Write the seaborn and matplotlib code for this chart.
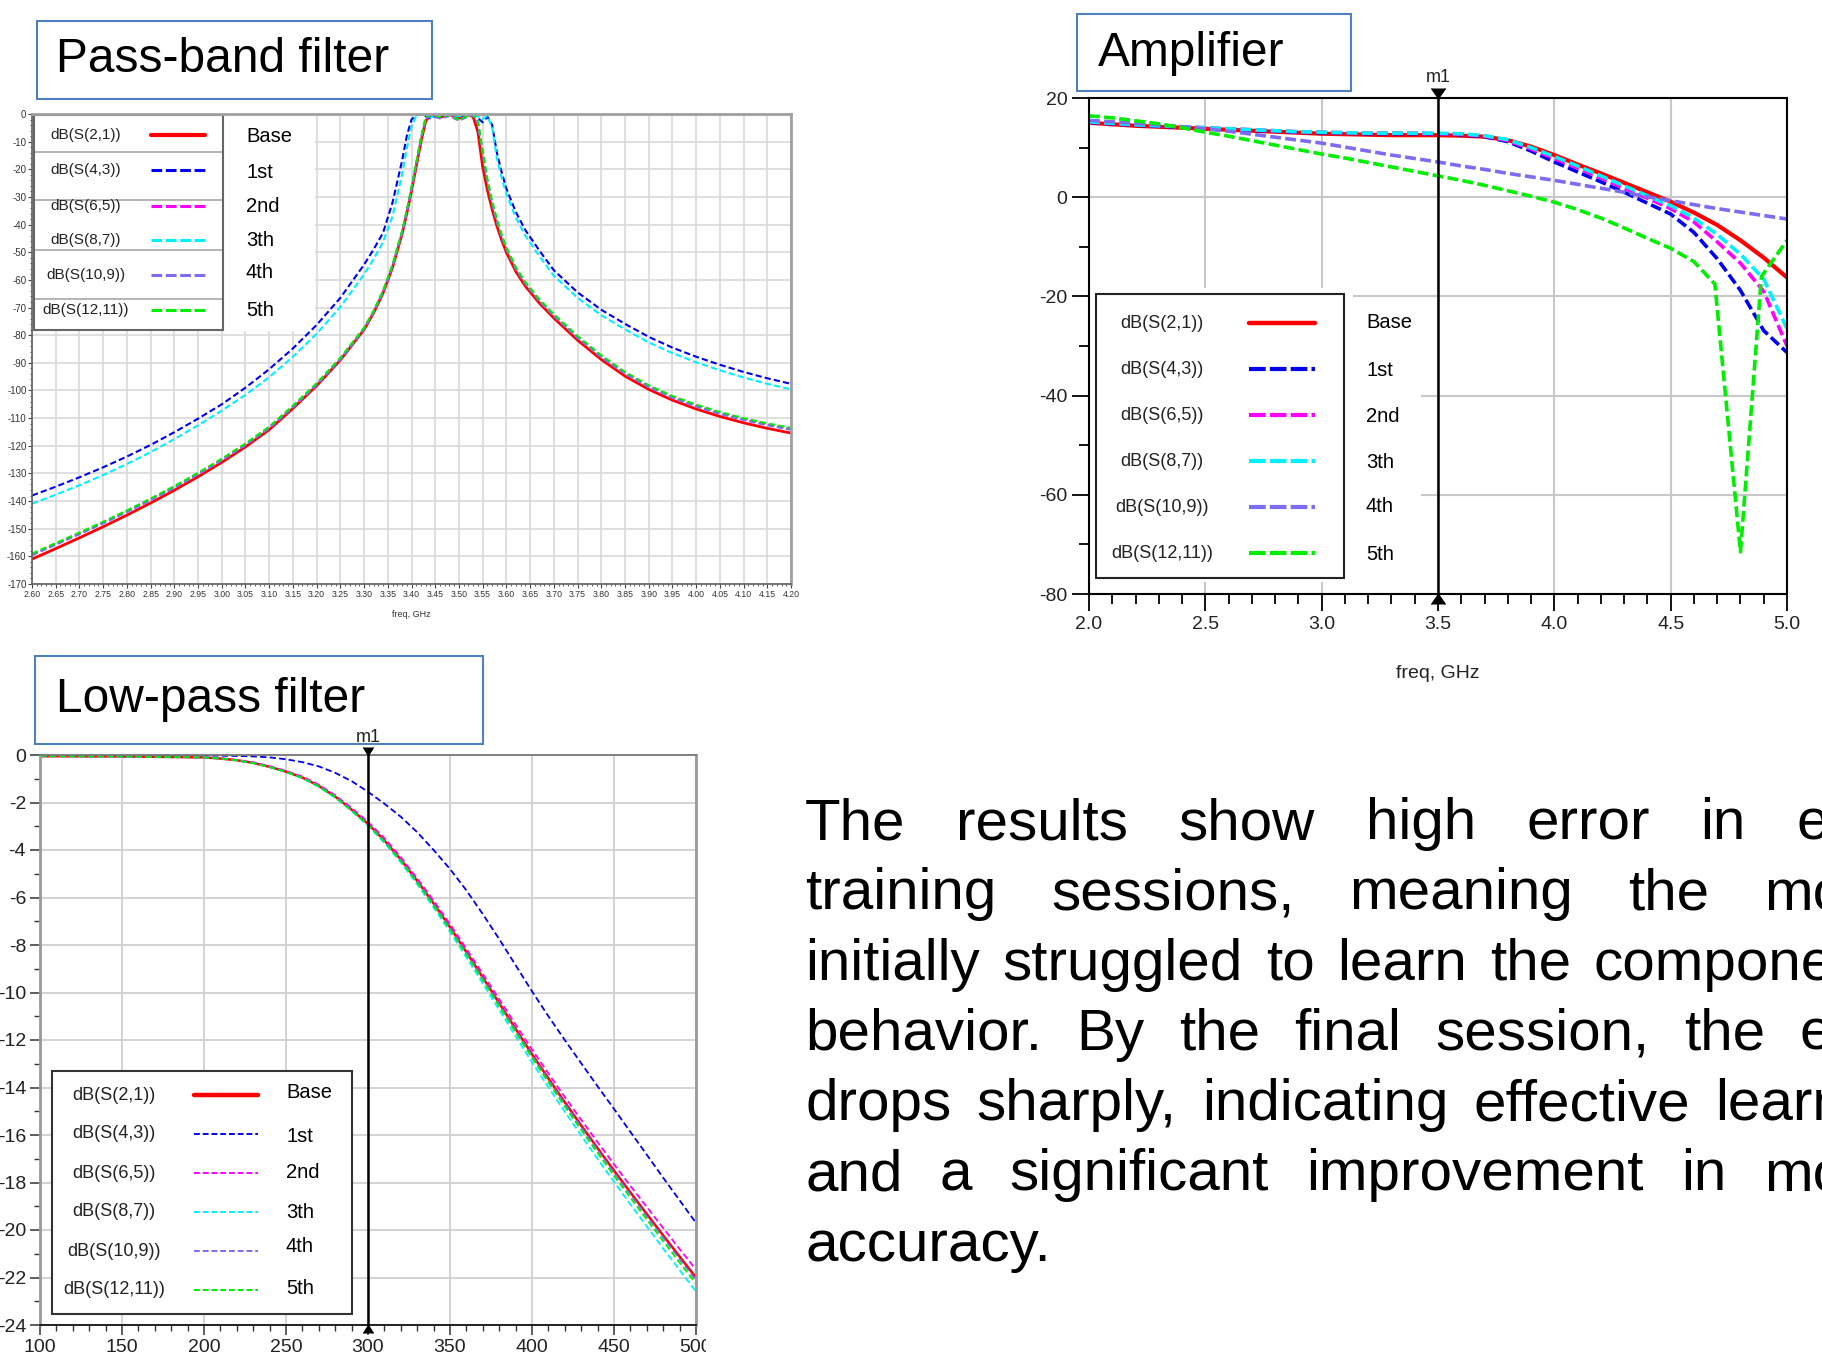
import matplotlib
matplotlib.use("Agg")
import matplotlib.pyplot as plt
import matplotlib.transforms as mtransforms
from matplotlib.patches import Rectangle
from matplotlib.lines import Line2D
from matplotlib.ticker import MultipleLocator, FormatStrFormatter
import pandas as pd
import seaborn as sns

FIG_W, FIG_H = 1822, 1362

# traces shared by the three panels
trace_names = ["dB(S(2,1))", "dB(S(4,3))", "dB(S(6,5))", "dB(S(8,7))", "dB(S(10,9))", "dB(S(12,11))"]
trace_labels = ["Base", "1st", "2nd", "3th", "4th", "5th"]
trace_colors = ["#FF0000", "#0000F0", "#FF00FF", "#00F0FF", "#7B6CF0", "#00EE00"]

# ---- pass-band filter (freq in GHz, dB) ----
pb_freq = [2.60, 2.65, 2.70, 2.75, 2.80, 2.85, 2.90, 2.95, 3.00, 3.05, 3.10, 3.15, 3.20, 3.25, 3.30,
           3.32, 3.34, 3.36, 3.38, 3.39, 3.40, 3.41, 3.42, 3.43, 3.44,
           3.46, 3.48, 3.50, 3.52, 3.53, 3.54, 3.55, 3.56, 3.57, 3.58, 3.59, 3.60,
           3.62, 3.64, 3.67, 3.70, 3.75, 3.80, 3.85, 3.90, 3.95, 4.00, 4.05, 4.10, 4.15, 4.20]
pb_base = [-161, -157.2, -153.3, -149.3, -145.1, -140.7, -136.1, -131.2, -126, -120.4, -114.2, -106.5, -98.3, -89, -78,
           -72, -64.8, -55.5, -43.5, -36, -27.8, -19, -10, -2.5, -0.4,
           -1.2, -0.2, -1.5, -0.3, -1.0, -6.5, -19, -27.5, -34.5, -40.5, -45.6, -50,
           -57, -62.3, -68.5, -73.8, -81.8, -88.8, -94.8, -99.6, -103.5, -106.7, -109.4, -111.7, -113.7, -115.4]
pb_1st = [-138, -134.8, -131.4, -127.8, -123.9, -119.7, -115.1, -110.2, -105.0, -99, -92.3, -84.8, -76.3, -66.5, -54.5,
          -49, -43, -32, -17, -8, -2, -0.3, -0.2, -0.8, -1.5,
          -0.5, -0.3, -1.0, -0.4, -0.3, -1.5, -3.0, -1.0, -4, -14, -21, -27,
          -35.5, -42, -49.5, -56.5, -64.5, -70.8, -75.9, -80.6, -84.5, -87.8, -90.7, -93.3, -95.6, -97.6]
pb_2nd = [-159.3, -155.5, -151.7, -147.8, -143.7, -139.4, -134.9, -130.1, -125.0, -119.5, -113.4, -105.8, -97.7, -88.5, -77.6,
          -71.5, -64.2, -54.8, -42.7, -35.2, -26.8, -17.9, -8.8, -1.4, -0.4,
          -1.3, -0.3, -1.8, -0.5, -0.4, -3.0, -14, -24.3, -32.1, -38.6, -44.1, -48.6,
          -55.8, -61.2, -67.5, -72.8, -80.7, -87.7, -93.7, -98.5, -102.4, -105.5, -108.2, -110.4, -112.3, -113.9]
pb_3th = [-141, -137.7, -134.3, -130.6, -126.6, -122.3, -117.6, -112.6, -107.3, -101.6, -95.2, -87.8, -79.5, -69.8, -58,
          -52.5, -46.3, -37, -22, -12.5, -4.5, -0.6, -0.3, -0.5, -1.2,
          -0.4, -0.2, -0.8, -0.3, -0.2, -0.9, -1.8, -0.6, -5, -16, -23, -29,
          -37.5, -44, -51.5, -58.5, -66.5, -72.8, -77.9, -82.6, -86.5, -89.8, -92.7, -95.3, -97.6, -99.6]
pb_4th = [-159.6, -155.8, -152.0, -148.1, -144.0, -139.7, -135.2, -130.4, -125.3, -119.8, -113.7, -106.1, -98.0, -88.8, -77.9,
          -71.8, -64.5, -55.1, -43.0, -35.5, -27.1, -18.2, -9.1, -1.7, -0.6,
          -1.6, -0.8, -2.4, -0.9, -0.6, -3.5, -14.5, -24.8, -32.6, -39, -44.5, -49,
          -56.1, -61.5, -67.8, -73.1, -81, -88, -94, -98.8, -102.7, -105.8, -108.5, -110.7, -112.6, -114.2]
pb_5th = [-159, -155.2, -151.4, -147.5, -143.4, -139.1, -134.6, -129.8, -124.7, -119.2, -113.1, -105.5, -97.4, -88.2, -77.3,
          -71.2, -63.9, -54.5, -42.4, -34.9, -26.5, -17.6, -8.5, -1.2, -0.3,
          -1.0, -0.4, -2.0, -0.6, -0.3, -2.5, -13, -23.5, -31.5, -38, -43.6, -48.2,
          -55.4, -60.8, -67.1, -72.4, -80.3, -87.3, -93.3, -98.1, -102, -105.1, -107.8, -110, -111.9, -113.5]

# ---- amplifier (freq in GHz, dB) ----
amp_freq = [2.0, 2.1, 2.2, 2.3, 2.4, 2.5, 2.6, 2.7, 2.8, 2.9, 3.0, 3.1, 3.2, 3.3, 3.4, 3.5,
            3.6, 3.7, 3.8, 3.9, 4.0, 4.1, 4.2, 4.3, 4.4, 4.5, 4.6, 4.7, 4.8, 4.9, 5.0]
amp_freq_5th = [2.0, 2.1, 2.2, 2.3, 2.4, 2.5, 2.6, 2.7, 2.8, 2.9, 3.0, 3.1, 3.2, 3.3, 3.4, 3.5,
                3.6, 3.7, 3.8, 3.9, 4.0, 4.1, 4.2, 4.3, 4.4, 4.5, 4.6, 4.69, 4.80, 4.89, 5.0]
amp_base = [15.0, 14.7, 14.4, 14.2, 14.0, 13.8, 13.6, 13.4, 13.2, 13.0, 12.8, 12.7, 12.6, 12.5, 12.5, 12.5,
            12.4, 12.2, 11.5, 10.2, 8.5, 6.6, 4.8, 2.9, 1.0, -0.9, -3.1, -5.6, -8.7, -12.2, -16.2]
amp_1st = [15.1, 14.8, 14.5, 14.3, 14.1, 13.9, 13.7, 13.5, 13.3, 13.1, 13.0, 12.9, 12.8, 12.8, 12.8, 12.8,
           12.6, 12.2, 11.2, 9.3, 7.1, 5.1, 3.1, 1.0, -1.2, -3.4, -7.1, -12.4, -18.8, -26.9, -31.3]
amp_2nd = [15.2, 14.9, 14.6, 14.4, 14.2, 14.0, 13.8, 13.6, 13.4, 13.2, 13.1, 13.0, 12.9, 12.9, 12.9, 12.8,
           12.7, 12.3, 11.4, 9.7, 7.8, 5.9, 3.9, 1.8, -0.2, -2.3, -5.0, -9.0, -13.3, -19.0, -30.0]
amp_3th = [15.2, 14.9, 14.6, 14.4, 14.2, 14.0, 13.8, 13.6, 13.4, 13.2, 13.1, 13.0, 12.9, 12.9, 12.9, 12.9,
           12.8, 12.4, 11.6, 10.0, 8.2, 6.3, 4.3, 2.3, 0.3, -1.7, -4.2, -7.5, -11.5, -16.5, -26.5]
amp_4th = [15.5, 15.2, 14.9, 14.6, 14.2, 13.8, 13.3, 12.7, 12.1, 11.5, 10.9, 10.1, 9.3, 8.5, 7.8, 7.1,
           6.3, 5.6, 4.8, 4.1, 3.4, 2.6, 1.8, 1.0, 0.1, -0.7, -1.5, -2.3, -3.0, -3.7, -4.4]
amp_5th = [16.4, 16.0, 15.4, 14.8, 14.0, 13.1, 12.3, 11.4, 10.5, 9.6, 8.7, 7.9, 7.0, 6.1, 5.2, 4.3,
           3.4, 2.4, 1.3, 0.2, -1.0, -2.5, -4.2, -6.2, -8.3, -10.3, -13.0, -17.5, -71.5, -16.0, -8.7]
amp_marker = 3.5

# ---- low-pass filter (freq in MHz, dB) ----
lp_freq = [100, 150, 200, 210, 220, 230, 240, 250, 260, 270, 280, 290, 300, 310, 320, 330, 340,
           350, 360, 370, 380, 390, 400, 410, 420, 430, 440, 450, 460, 470, 480, 490, 500]
lp_base = [-0.05, -0.06, -0.1, -0.15, -0.22, -0.33, -0.5, -0.7, -0.95, -1.3, -1.75, -2.3, -2.9, -3.6, -4.4, -5.3, -6.25,
           -7.25, -8.3, -9.37, -10.45, -11.53, -12.6, -13.62, -14.62, -15.6, -16.56, -17.5, -18.42, -19.33, -20.23, -21.12, -22.0]
lp_1st = [-0.01, -0.01, -0.02, -0.03, -0.04, -0.06, -0.1, -0.18, -0.3, -0.48, -0.75, -1.1, -1.55, -2.05, -2.6, -3.25, -4.0,
          -4.8, -5.7, -6.7, -7.75, -8.85, -9.95, -11.0, -12.0, -12.98, -13.95, -14.9, -15.87, -16.83, -17.8, -18.75, -19.7]
lp_2nd = [-0.05, -0.06, -0.1, -0.14, -0.21, -0.31, -0.47, -0.67, -0.91, -1.25, -1.7, -2.23, -2.82, -3.5, -4.3, -5.2, -6.13,
          -7.12, -8.16, -9.22, -10.28, -11.35, -12.4, -13.41, -14.4, -15.36, -16.3, -17.23, -18.14, -19.03, -19.92, -20.8, -21.67]
lp_3th = [-0.05, -0.06, -0.1, -0.15, -0.23, -0.34, -0.51, -0.72, -0.98, -1.34, -1.8, -2.36, -2.98, -3.7, -4.52, -5.44, -6.42,
          -7.45, -8.52, -9.62, -10.73, -11.84, -12.94, -13.99, -15.02, -16.02, -17.01, -17.97, -18.92, -19.85, -20.78, -21.69, -22.59]
lp_4th = [-0.05, -0.06, -0.1, -0.15, -0.22, -0.33, -0.5, -0.7, -0.96, -1.31, -1.76, -2.31, -2.92, -3.62, -4.42, -5.33, -6.28,
          -7.29, -8.34, -9.42, -10.5, -11.59, -12.66, -13.69, -14.69, -15.68, -16.64, -17.59, -18.51, -19.43, -20.33, -21.23, -22.11]
lp_5th = [-0.05, -0.06, -0.1, -0.15, -0.22, -0.34, -0.51, -0.71, -0.96, -1.32, -1.77, -2.33, -2.94, -3.65, -4.46, -5.37, -6.33,
          -7.35, -8.4, -9.48, -10.58, -11.67, -12.75, -13.78, -14.8, -15.79, -16.76, -17.71, -18.64, -19.56, -20.47, -21.37, -22.26]
lp_marker = 300

para_lines = [
    "The results show high error in early",
    "training sessions, meaning the model",
    "initially struggled to learn the component's",
    "behavior. By the final session, the error",
    "drops sharply, indicating effective learning",
    "and a significant improvement in model",
    "accuracy.",
]

sns.set_style("white")
plt.rcParams["font.family"] = ["Liberation Sans", "DejaVu Sans"]
plt.rcParams["axes.unicode_minus"] = False

fig = plt.figure(figsize=(FIG_W / 100, FIG_H / 100), dpi=100)
fig.patch.set_facecolor("white")

# slide pixel coordinates, origin at the top-left corner
px = mtransforms.Affine2D().scale(1 / FIG_W, -1 / FIG_H).translate(0, 1) + fig.transFigure


def add_axes_px(left, top, right, bottom):
    return fig.add_axes([left / FIG_W, 1 - bottom / FIG_H, (right - left) / FIG_W, (bottom - top) / FIG_H])


def draw_traces(ax, freqs, series, widths, styles):
    for freq, vals, color, lw, ls in zip(freqs, series, trace_colors, widths, styles):
        df = pd.DataFrame({"freq": freq, "dB": vals})
        sns.lineplot(data=df, x="freq", y="dB", ax=ax, color=color, lw=lw, linestyle=ls,
                     estimator=None, sort=False, zorder=2)
    ax.set_ylabel("")


def draw_key(ax, box, covers, edge, rows, label_rows, name_x, seg, label_x,
             name_size, label_size, widths, styles, extra_lines=()):
    for cl, ct, cr, cb in covers:
        ax.add_patch(Rectangle((cl, ct), cr - cl, cb - ct, transform=px, facecolor="white",
                               edgecolor="none", zorder=1))
    l, t, r, b = box
    ax.add_patch(Rectangle((l, t), r - l, b - t, transform=px, facecolor="none",
                           edgecolor=edge, lw=1.5, zorder=1.2))
    for yy in extra_lines:
        ax.add_line(Line2D([l, r], [yy, yy], transform=px, color="#A8A8A8", lw=1.2, zorder=1.1))
    for i in range(len(trace_names)):
        ax.text(name_x, rows[i], trace_names[i], transform=px, ha="center", va="center",
                fontsize=name_size, color="#222222", zorder=3)
        ax.add_line(Line2D(seg, [rows[i], rows[i]], transform=px, color=trace_colors[i],
                           lw=widths[i], linestyle=styles[i], zorder=3))
        ax.text(label_x, label_rows[i], trace_labels[i], transform=px, ha="left", va="center",
                fontsize=label_size, color="black", zorder=3)


def title_box(l, t, r, b, text, tx, ty):
    fig.add_artist(Rectangle((l, t), r - l, b - t, transform=px, facecolor="white",
                             edgecolor="#4F81BD", lw=1.5, zorder=-1))
    fig.text(tx, ty, text, transform=px, fontsize=34.5, va="center", ha="left", color="black", zorder=-0.5)


def marker_line(ax, xval, size, label_size):
    ax.axvline(xval, color="black", lw=1.8, zorder=4)
    y0, y1 = ax.get_ylim()
    ax.plot([xval], [y1], marker=7, ms=size, color="black", clip_on=False, zorder=5)
    ax.plot([xval], [y0], marker=6, ms=size, color="black", clip_on=False, zorder=5)
    ax.annotate("m1", xy=(xval, y1), xytext=(0, size * 0.85), textcoords="offset points",
                ha="center", va="bottom", fontsize=label_size, color="#222222", annotation_clip=False)


# ---------------- pass-band filter ----------------
ax1 = add_axes_px(32, 114, 791, 584)
draw_traces(ax1, [pb_freq] * 6, [pb_base, pb_1st, pb_2nd, pb_3th, pb_4th, pb_5th],
            [2.0, 1.5, 1.5, 1.5, 1.5, 1.5], ["-"] + [(0, (3, 1.5))] * 5)
ax1.set_xlim(2.60, 4.20)
ax1.set_ylim(-170, 0)
ax1.xaxis.set_major_locator(MultipleLocator(0.05))
ax1.xaxis.set_minor_locator(MultipleLocator(0.01))
ax1.yaxis.set_major_locator(MultipleLocator(10))
ax1.yaxis.set_minor_locator(MultipleLocator(2))
ax1.xaxis.set_major_formatter(FormatStrFormatter("%.2f"))
ax1.yaxis.set_major_formatter(FormatStrFormatter("%d"))
ax1.grid(True, which="major", color="#D9D9D9", lw=1.2)
ax1.tick_params(which="both", direction="out", bottom=True, left=True, colors="#444444",
                labelcolor="#333333", labelfontfamily=["Liberation Sans Narrow", "Liberation Sans"])
ax1.tick_params(axis="x", which="major", length=3, width=0.8, labelsize=6.3, pad=1)
ax1.tick_params(axis="y", which="major", length=3, width=0.8, labelsize=7, pad=1)
ax1.tick_params(which="minor", length=1.6, width=0.6)
for side, col, w in [("left", "#606060", 1.2), ("bottom", "#606060", 1.2), ("top", "#A0A0A0", 2), ("right", "#A0A0A0", 2)]:
    ax1.spines[side].set_color(col)
    ax1.spines[side].set_linewidth(w)
ax1.set_xlabel("freq, GHz", fontsize=6.5, color="#333333",
               fontfamily=["Liberation Sans Narrow", "Liberation Sans"])
ax1.xaxis.set_label_coords(0.5, -0.055)
draw_key(ax1, box=(34, 115, 223, 330), covers=[(33, 115, 315, 331)], edge="#666666",
         rows=[135, 170, 206, 240, 275, 310], label_rows=[136, 173, 207, 240, 272, 310],
         name_x=86, seg=[151, 205], label_x=246, name_size=11, label_size=14.5,
         widths=[3, 2.2, 2.2, 2.2, 2.2, 2.2], styles=["-"] + [(0, (3.5, 1.2))] * 5,
         extra_lines=[152, 200, 250, 299])
title_box(37, 21, 432, 99, "Pass-band filter", 56, 60)

# ---------------- amplifier ----------------
ax2 = add_axes_px(1089, 98, 1787, 594)
draw_traces(ax2, [amp_freq] * 5 + [amp_freq_5th], [amp_base, amp_1st, amp_2nd, amp_3th, amp_4th, amp_5th],
            [3.0, 2.6, 2.6, 2.6, 2.6, 2.6], ["-"] + [(0, (3, 1.2))] * 5)
ax2.set_xlim(2.0, 5.0)
ax2.set_ylim(-80, 20)
ax2.xaxis.set_major_locator(MultipleLocator(0.5))
ax2.xaxis.set_minor_locator(MultipleLocator(0.1))
ax2.yaxis.set_major_locator(MultipleLocator(20))
ax2.yaxis.set_minor_locator(MultipleLocator(10))
ax2.xaxis.set_major_formatter(FormatStrFormatter("%.1f"))
ax2.yaxis.set_major_formatter(FormatStrFormatter("%d"))
ax2.grid(True, which="major", color="#C8C8C8", lw=1.5)
ax2.tick_params(which="both", direction="out", bottom=True, left=True, colors="black",
                labelcolor="#222222", labelsize=14)
ax2.tick_params(which="major", length=12.5, width=1.3, pad=3)
ax2.tick_params(which="minor", length=7, width=1.3)
for side in ["left", "bottom", "top", "right"]:
    ax2.spines[side].set_color("black")
    ax2.spines[side].set_linewidth(1.5)
ax2.set_xlabel("freq, GHz", fontsize=14, color="#222222")
ax2.xaxis.set_label_coords(0.5, -0.143)
draw_key(ax2, box=(1096, 294, 1344, 578), covers=[(1090, 288, 1353, 582), (1353, 300, 1421, 582)],
         edge="#222222", rows=[323, 369, 415, 461, 507, 553], label_rows=[323, 370, 416, 462, 507, 555],
         name_x=1162, seg=[1249, 1315], label_x=1366, name_size=13, label_size=14.5,
         widths=[3.2, 3.0, 3.0, 3.0, 3.0, 3.0], styles=["-"] + [(0, (4, 1))] * 5)
marker_line(ax2, amp_marker, 10, 13)
title_box(1077, 14, 1351, 91, "Amplifier", 1098, 53)

# ---------------- low-pass filter ----------------
ax3 = add_axes_px(40, 755, 696, 1325)
draw_traces(ax3, [lp_freq] * 6, [lp_base, lp_1st, lp_2nd, lp_3th, lp_4th, lp_5th],
            [1.8, 1.3, 1.3, 1.3, 1.3, 1.3], ["-"] + [(0, (3.5, 1.8))] * 5)
ax3.set_xlim(100, 500)
ax3.set_ylim(-24, 0)
ax3.xaxis.set_major_locator(MultipleLocator(50))
ax3.xaxis.set_minor_locator(MultipleLocator(10))
ax3.yaxis.set_major_locator(MultipleLocator(2))
ax3.yaxis.set_minor_locator(MultipleLocator(1))
ax3.xaxis.set_major_formatter(FormatStrFormatter("%d"))
ax3.yaxis.set_major_formatter(FormatStrFormatter("%d"))
ax3.grid(True, which="major", color="#D0D0D0", lw=1.3)
ax3.tick_params(which="both", direction="out", bottom=True, left=True, colors="#333333",
                labelcolor="#222222", labelsize=14)
ax3.tick_params(which="major", length=7, width=1.1, pad=3)
ax3.tick_params(which="minor", length=4, width=1.0)
for side, col, w in [("left", "#999999", 2), ("bottom", "#111111", 1.3), ("top", "#777777", 1.3), ("right", "#999999", 2)]:
    ax3.spines[side].set_color(col)
    ax3.spines[side].set_linewidth(w)
ax3.set_xlabel("")
draw_key(ax3, box=(52, 1071, 352, 1314), covers=[(52, 1071, 352, 1314)], edge="#333333",
         rows=[1095, 1134, 1173, 1212, 1251, 1290], label_rows=[1093, 1136, 1173, 1212, 1247, 1289],
         name_x=114, seg=[194, 258], label_x=286, name_size=13, label_size=14.5,
         widths=[3.2, 1.4, 1.4, 1.4, 1.4, 1.4], styles=["-"] + [(0, (3, 1.5))] * 5)
marker_line(ax3, lp_marker, 7.5, 13)
title_box(35, 656, 483, 744, "Low-pass filter", 56, 699)
# the slide crops the low-pass picture just right of its last tick label
fig.add_artist(Rectangle((706, 1328), 90, 34, transform=px, facecolor="white", edgecolor="none", zorder=10))

# ---------------- justified paragraph ----------------
renderer = fig.canvas.get_renderer()
line_width = 1118
space_w = 16
for i, line in enumerate(para_lines):
    words = line.split()
    texts = [fig.text(0, 0, w, transform=px, fontsize=42, va="baseline", ha="left", color="black")
             for w in words]
    widths = [t.get_window_extent(renderer).width for t in texts]
    if i < len(para_lines) - 1 and len(words) > 1:
        gap = (line_width - sum(widths)) / (len(words) - 1)
    else:
        gap = space_w
    x = 805
    y = 839 + i * 70.3
    for t, w in zip(texts, widths):
        t.set_position((x, y))
        x += w + gap

fig.savefig("out.png", dpi=100)
